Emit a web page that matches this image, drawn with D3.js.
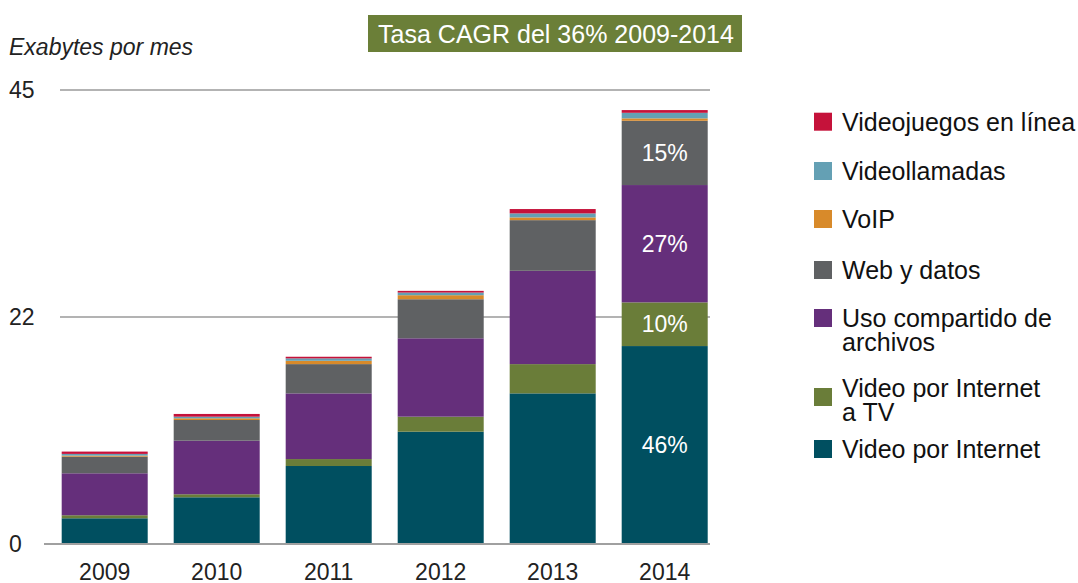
<!DOCTYPE html>
<html>
<head>
<meta charset="utf-8">
<script src="https://cdn.jsdelivr.net/npm/d3@7"></script>
<style>
  body { margin: 0; background: #fff; }
  svg text { font-family: "Liberation Sans", Arial, sans-serif; }
</style>
</head>
<body>
<div id="chart"></div>
<script>

// Data (exabytes per month)
var years = ["2009", "2010", "2011", "2012", "2013", "2014"];
var seriesNames = ["Video por Internet", "Video por Internet a TV", "Uso compartido de archivos",
                   "Web y datos", "VoIP", "Videollamadas", "Videojuegos en línea"];
var videoInternet = [2.55, 4.63, 7.73, 11.13, 14.93, 19.62];
var videoTV       = [0.30, 0.30, 0.69, 1.49, 2.90, 4.33];
var fileSharing   = [4.16, 5.31, 6.51, 7.77, 9.25, 11.63];
var webData       = [1.65, 2.05, 2.90, 3.87, 5.02, 6.37];
var voip          = [0.10, 0.17, 0.33, 0.40, 0.27, 0.24];
var videoCalls    = [0.17, 0.16, 0.24, 0.26, 0.40, 0.55];
var gaming        = [0.23, 0.27, 0.16, 0.17, 0.43, 0.27];
var shares2014    = ["46%", "10%", "27%", "15%", "", "", ""];
var yTicks        = [0, 22.5, 45];
var yTickLabels   = ["0", "22", "45"];

var colors = ["#004f60", "#6a7d39", "#652f7b", "#5f6163", "#d88a2a", "#64a0b4", "#c5123a"];

// Build rows for the stack
var keys = ["vi", "vt", "fs", "wd", "vo", "vc", "ga"];
var cols = [videoInternet, videoTV, fileSharing, webData, voip, videoCalls, gaming];
var data = years.map(function(y, i) {
  var row = {year: y};
  keys.forEach(function(k, j) { row[k] = cols[j][i]; });
  return row;
});

var svg = d3.select("#chart").append("svg")
    .attr("width", 1078)
    .attr("height", 583);

var x = d3.scaleBand()
    .domain(years)
    .range([48.7, 720.7])
    .paddingInner(0.232)
    .paddingOuter(0.116);

var y = d3.scaleLinear()
    .domain([0, 45])
    .range([544, 90]);

// gridlines
svg.append("g")
  .selectAll("line")
  .data(yTicks.slice(1))
  .enter().append("line")
    .attr("x1", 60).attr("x2", 710)
    .attr("y1", function(d) { return y(d); })
    .attr("y2", function(d) { return y(d); })
    .attr("stroke", "#9a9a9a")
    .attr("stroke-width", 1.3);

// stacked bars
var stack = d3.stack().keys(keys);
var layers = stack(data);

svg.append("g")
  .selectAll("g")
  .data(layers)
  .enter().append("g")
    .attr("fill", function(d, i) { return colors[i]; })
  .selectAll("rect")
  .data(function(d) { return d; })
  .enter().append("rect")
    .attr("x", function(d) { return x(d.data.year); })
    .attr("y", function(d) { return y(d[1]); })
    .attr("height", function(d) { return y(d[0]) - y(d[1]); })
    .attr("width", x.bandwidth());

// baseline
svg.append("line")
    .attr("x1", 44).attr("x2", 710)
    .attr("y1", y(0)).attr("y2", y(0))
    .attr("stroke", "#a0a0a0")
    .attr("stroke-width", 2);

// percent labels on the last bar
var last = data.length - 1;
svg.append("g")
  .selectAll("text")
  .data(layers.filter(function(l, i) { return shares2014[i] !== ""; }))
  .enter().append("text")
    .attr("x", x(years[last]) + x.bandwidth() / 2)
    .attr("y", function(l) { return (y(l[last][0]) + y(l[last][1])) / 2; })
    .attr("dy", "0.36em")
    .attr("text-anchor", "middle")
    .attr("fill", "#fff")
    .style("font-size", "23px")
    .text(function(l) { return shares2014[l.index]; });

// y tick labels
svg.append("g")
  .selectAll("text")
  .data(yTicks)
  .enter().append("text")
    .attr("x", 9)
    .attr("y", function(d) { return y(d); })
    .attr("dy", "0.36em")
    .attr("fill", "#222")
    .style("font-size", "23px")
    .text(function(d, i) { return yTickLabels[i]; });

// x tick labels
svg.append("g")
  .selectAll("text")
  .data(years)
  .enter().append("text")
    .attr("x", function(d) { return x(d) + x.bandwidth() / 2; })
    .attr("y", 580)
    .attr("text-anchor", "middle")
    .attr("fill", "#222")
    .style("font-size", "23px")
    .text(function(d) { return d; });

// axis title
svg.append("text")
    .attr("x", 9)
    .attr("y", 55)
    .attr("fill", "#222")
    .style("font-size", "23px")
    .style("font-style", "italic")
    .text("Exabytes por mes");

// CAGR box
svg.append("rect")
    .attr("x", 368).attr("y", 15)
    .attr("width", 374).attr("height", 37)
    .attr("fill", "#6b7f38");
svg.append("text")
    .attr("x", 556).attr("y", 33.5)
    .attr("dy", "0.36em")
    .attr("text-anchor", "middle")
    .attr("fill", "#fff")
    .style("font-size", "25px")
    .text("Tasa CAGR del 36% 2009-2014");

// legend (top to bottom = reverse stack order)
var legendRows = [
  {i: 6, y: 121.7, lines: ["Videojuegos en línea"]},
  {i: 5, y: 171,   lines: ["Videollamadas"]},
  {i: 4, y: 219,   lines: ["VoIP"]},
  {i: 3, y: 270,   lines: ["Web y datos"]},
  {i: 2, y: 318,   lines: ["Uso compartido de", "archivos"]},
  {i: 1, y: 397,   lines: ["Video por Internet", "a TV"]},
  {i: 0, y: 449,   lines: ["Video por Internet"]}
];
var lg = svg.append("g").selectAll("g")
  .data(legendRows)
  .enter().append("g");
lg.append("rect")
    .attr("x", 814)
    .attr("y", function(d) { return d.y - 9; })
    .attr("width", 18).attr("height", 18)
    .attr("fill", function(d) { return colors[d.i]; });
lg.append("text")
    .attr("x", 842)
    .attr("y", function(d) { return d.lines.length > 1 && d.i === 1 ? d.y - 9 : d.y; })
    .attr("fill", "#111")
    .style("font-size", "25px")
    .each(function(d) {
      var t = d3.select(this);
      d.lines.forEach(function(s, k) {
        t.append("tspan").attr("x", 842).attr("dy", k === 0 ? "0.36em" : "24px").text(s);
      });
    });

</script>
</body>
</html>
